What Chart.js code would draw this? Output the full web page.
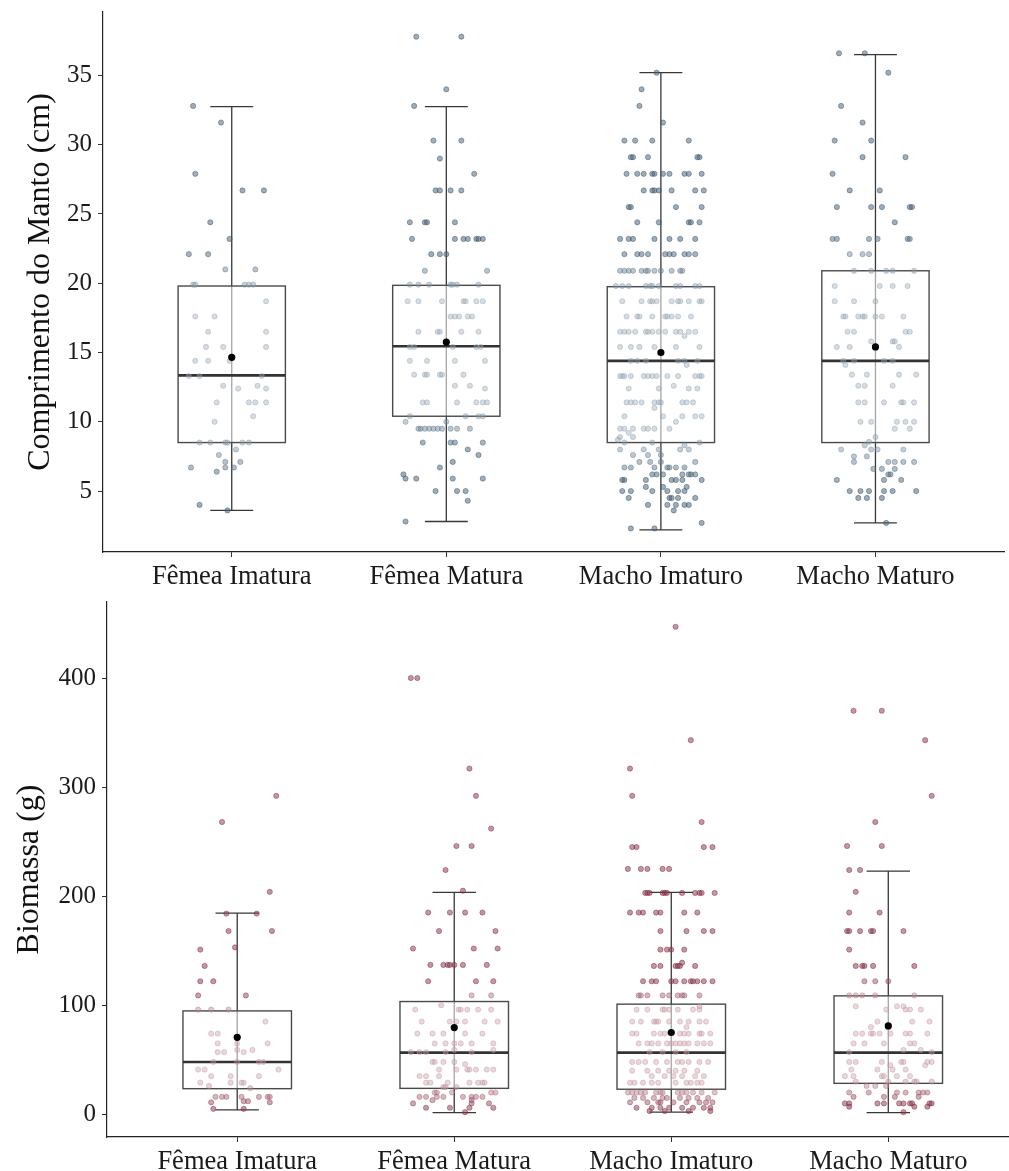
<!DOCTYPE html>
<html lang="pt">
<head>
<meta charset="utf-8">
<script src="https://cdn.jsdelivr.net/npm/chart.js@4.4.1/dist/chart.umd.min.js"></script>
<style>
  html, body { margin: 0; padding: 0; background: #fff; overflow: hidden; }
  #painelManto { position: absolute; left: 0; top: 0; }
  #painelBiomassa { position: absolute; left: 0; top: 590px; }
</style>
</head>
<body>
<canvas id="painelManto" width="1009" height="592"></canvas>
<canvas id="painelBiomassa" width="1030" height="581"></canvas>
<script>
//#region dados
const categorias = ["Fêmea Imatura", "Fêmea Matura", "Macho Imaturo", "Macho Maturo"];

// cada linha: [valor, [deslocamentos horizontais do jitter]]
const mantoFemeaImatura = [
  [32.8, [-0.18]], [31.6, [-0.05]], [27.9, [-0.17]], [26.7, [0.05, 0.15]], [24.4, [-0.10]],
  [23.2, [-0.01]], [22.1, [-0.20, -0.11]], [21.0, [-0.03, 0.11]],
  [19.9, [-0.18, -0.17, 0.06, 0.08, 0.10]], [18.7, [0.16]], [17.6, [-0.17, -0.08]],
  [16.5, [-0.11, 0.16]], [15.4, [-0.12, -0.04, 0.16]], [14.4, [-0.17, -0.11, -0.01]],
  [13.3, [-0.20, -0.15, 0.14]], [12.6, [-0.04, 0.12]], [12.4, [0.03, 0.16]],
  [11.4, [-0.07, 0.08, 0.11, 0.16]], [10.4, [0.10]], [10.0, [-0.08]],
  [8.5, [-0.15, -0.10, -0.03, -0.02, 0.05, 0.08]], [8.0, [0.02]], [7.6, [-0.06]],
  [7.1, [-0.03, 0.04]], [6.7, [-0.19, -0.03, 0.01]], [6.4, [-0.07]], [4.0, [-0.15]], [3.6, [-0.02]]
];
const mantoFemeaMatura = [
  [37.8, [-0.14, 0.07]], [34.0, [0.00]], [32.8, [-0.15]], [30.3, [-0.06, 0.07]], [29.0, [-0.03]],
  [27.9, [0.13]], [26.7, [-0.05, -0.03, 0.02, 0.07]], [24.4, [-0.17, -0.10, -0.09, 0.04]],
  [23.2, [-0.16, 0.04, 0.08, 0.10, 0.14, 0.15, 0.17]], [22.1, [-0.07, -0.03, 0.00]], [20.9, [-0.10, 0.19]],
  [19.9, [-0.17, -0.13, -0.08, 0.02, 0.03, 0.05, 0.15]], [18.7, [-0.18, -0.13, -0.02, 0.08, 0.09, 0.14, 0.17]],
  [17.6, [0.02, 0.04, 0.06, 0.10, 0.12]], [16.5, [-0.13, -0.04, -0.03, 0.07, 0.15]],
  [15.4, [-0.17, -0.15, 0.03, 0.14, 0.16]], [14.4, [-0.17, -0.09, 0.04, 0.18]],
  [13.4, [-0.15, -0.10, -0.09, -0.03, -0.02, 0.08]], [12.6, [0.04, 0.11]], [12.4, [0.18]],
  [11.4, [-0.11, -0.09, 0.05, 0.14, 0.17, 0.19]], [10.4, [-0.17, 0.09, 0.15, 0.17]], [10.0, [-0.19, 0.00]],
  [9.5, [-0.13, -0.12, -0.10, -0.08, -0.06, -0.04, -0.02, 0.02, 0.05, 0.11]],
  [8.5, [-0.11, 0.02, 0.04, 0.17]], [8.0, [0.10]], [7.6, [0.15]], [7.1, [0.03]], [6.7, [-0.03]],
  [6.2, [-0.20]], [5.9, [-0.19, -0.14, 0.03, 0.17]], [5.0, [-0.05, 0.05, 0.09]], [4.3, [0.10]], [2.8, [-0.19]]
];
const mantoMachoImaturo = [
  [35.2, [-0.02]], [34.0, [-0.09]], [32.8, [-0.10]], [31.6, [0.01]], [30.3, [-0.17, -0.12, -0.04, 0.13]],
  [29.1, [-0.14, -0.13, -0.06, 0.17, 0.18]],
  [27.9, [-0.16, -0.11, -0.08, -0.04, -0.03, 0.01, 0.04, 0.11, 0.13, 0.19]],
  [26.7, [-0.08, -0.04, -0.03, -0.01, 0.05, 0.16, 0.20]], [25.5, [-0.15, -0.14, 0.07, 0.19]],
  [24.4, [-0.11, -0.01, 0.13, 0.14, 0.18]], [23.2, [-0.19, -0.15, -0.13, -0.03, 0.04, 0.09, 0.16]],
  [22.1, [-0.17, -0.11, -0.09, -0.06, 0.02, 0.04, 0.06, 0.11, 0.13, 0.16]],
  [20.9, [-0.19, -0.17, -0.15, -0.13, -0.09, -0.07, -0.06, -0.03, 0.00, 0.05, 0.09, 0.10]],
  [19.8, [-0.21, -0.18, -0.15, -0.07, -0.05, -0.04, -0.01, 0.07, 0.09, 0.16, 0.18]],
  [18.7, [-0.18, -0.09, -0.05, -0.04, -0.02, 0.05, 0.08, 0.09, 0.13, 0.18, 0.19]],
  [17.6, [-0.16, -0.11, -0.10, -0.04, 0.02, 0.03, 0.05, 0.08, 0.14]],
  [16.5, [-0.19, -0.17, -0.15, -0.12, -0.07, -0.06, -0.04, -0.01, 0.02, 0.07, 0.09, 0.13, 0.16]],
  [16.2, [0.11]], [15.4, [-0.19, -0.14, -0.10, -0.03, 0.07, 0.18]],
  [14.4, [-0.14, -0.11, -0.07, 0.08, 0.11, 0.17]], [14.1, [0.12]],
  [13.3, [-0.19, -0.18, -0.17, -0.14, -0.08, -0.06, -0.04, -0.02, 0.03, 0.08, 0.16, 0.18, 0.19]],
  [12.6, [0.06]], [12.4, [-0.15, -0.01, 0.13, 0.17]],
  [11.4, [-0.16, -0.14, -0.12, -0.09, -0.03, -0.01, 0.00, 0.10, 0.12, 0.15]], [11.0, [-0.03]],
  [10.4, [-0.17, 0.01, 0.10, 0.16, 0.19]], [10.0, [0.07]],
  [9.5, [-0.19, -0.17, -0.13, -0.08, -0.06, -0.03, 0.04]], [9.2, [-0.15]], [8.9, [-0.19, -0.13]],
  [8.7, [-0.20]], [8.5, [-0.17, -0.04, 0.18]], [8.3, [0.11]], [8.0, [-0.19, -0.08, -0.01, 0.09, 0.13]],
  [7.6, [-0.13, -0.06, 0.00]], [7.1, [-0.10, -0.05, 0.00, 0.16]],
  [6.7, [-0.17, -0.14, -0.03, 0.03, 0.04, 0.07, 0.11]], [6.2, [-0.04, -0.02, 0.01, 0.10, 0.13, 0.14, 0.16]],
  [5.8, [-0.18, -0.17, -0.07, 0.05, 0.07, 0.10, 0.19]], [5.3, [-0.07, 0.01, 0.12]],
  [5.0, [-0.18, -0.14, -0.04, 0.03, 0.08, 0.11]], [4.5, [-0.15, 0.04, 0.05, 0.08, 0.16]],
  [4.0, [-0.06, 0.03, 0.07, 0.11, 0.13]], [3.6, [0.06]], [2.7, [0.19]], [2.3, [-0.14, -0.03]]
];
const mantoMachoMaturo = [
  [36.6, [-0.17, -0.05]], [35.2, [0.06]], [32.8, [-0.16]], [31.6, [-0.06]], [30.3, [-0.19, -0.02]],
  [29.1, [-0.06, 0.14]], [27.9, [-0.20]], [26.7, [-0.12, 0.02]], [25.5, [-0.18, -0.02, 0.03, 0.16, 0.17]],
  [24.4, [0.09]], [23.2, [-0.20, -0.18, -0.03, 0.01, 0.15, 0.16]], [22.1, [-0.12, -0.06, -0.03]],
  [20.9, [-0.10, -0.02, 0.05, 0.08, 0.18]], [19.8, [-0.19, 0.02, 0.08, 0.15]], [18.7, [-0.19, -0.10, 0.00]],
  [17.6, [-0.15, -0.14, -0.08, -0.06, -0.05, 0.00, 0.03, 0.13]], [16.5, [-0.13, -0.10, 0.14, 0.16]],
  [15.8, [-0.02, 0.08, 0.09]], [15.4, [-0.18, -0.12, 0.11]], [14.4, [-0.15, -0.10, 0.04, 0.08]],
  [14.1, [-0.14]], [13.4, [-0.11, -0.04, 0.11, 0.19]], [12.6, [-0.08, -0.05, 0.08]],
  [11.4, [-0.08, -0.05, 0.04, 0.12, 0.13, 0.18]], [10.0, [-0.07, -0.02, 0.10, 0.14, 0.18]],
  [9.5, [0.09, 0.16]], [8.9, [0.00]], [8.55, [-0.03]], [8.3, [-0.05]], [8.0, [-0.16, -0.02, 0.01, 0.13]],
  [7.5, [-0.10, -0.04]], [7.1, [-0.10, 0.06, 0.09, 0.13, 0.18]], [6.6, [-0.01, 0.03, 0.09]],
  [6.2, [0.06, 0.07]], [5.8, [-0.18, 0.04, 0.12]], [5.0, [-0.12, -0.07, -0.03, 0.04, 0.08, 0.19]],
  [4.5, [-0.08, -0.04, 0.03]], [2.7, [0.05]]
];

const biomassaFemeaImatura = [
  [292, [0.18]], [268, [-0.07]], [204, [0.15]], [184, [-0.05, 0.09]], [168, [-0.04, 0.16]],
  [153, [-0.01]], [151, [-0.17]], [136, [-0.15]], [122, [-0.17, -0.11]], [109, [-0.18, 0.04]],
  [96, [-0.18, -0.12, -0.04]], [85, [0.13]], [74, [-0.12, -0.09]], [65, [-0.09, 0.00, 0.14]],
  [59, [0.00, 0.07]], [57, [-0.09, -0.06, 0.03]], [48, [-0.11, 0.00, 0.10, 0.12]],
  [41, [-0.18, -0.15, 0.19]], [35, [-0.12, -0.03, 0.10]], [29, [-0.17, -0.03, 0.02, 0.03]],
  [26, [-0.13]], [24, [0.06]], [16, [-0.10, -0.07, -0.05, 0.02, 0.10, 0.14, 0.15]],
  [12, [0.03, 0.05]], [11, [-0.12, 0.15]], [5, [-0.11, 0.03]]
];
const biomassaFemeaMatura = [
  [400, [-0.20, -0.17]], [317, [0.07]], [292, [0.10]], [262, [0.17]], [246, [0.01, 0.08]],
  [224, [-0.04]], [205, [0.04]], [185, [-0.12, -0.02, 0.05, 0.13]], [168, [-0.07, 0.19]],
  [152, [-0.19, 0.09, 0.20]], [137, [-0.11, -0.05, -0.03, -0.02, 0.00, 0.04, 0.15]],
  [122, [-0.12, 0.10, 0.18]], [109, [0.08, 0.17]], [100, [-0.06]],
  [96, [-0.18, 0.02, 0.03, 0.06, 0.11, 0.17]], [85, [-0.15, -0.02, 0.01, 0.05, 0.14, 0.20]],
  [74, [-0.17, -0.10, -0.05, 0.05, 0.13]], [65, [-0.09, -0.04, 0.00, 0.03, 0.08, 0.18]],
  [59, [0.00, 0.18]], [57, [-0.20, -0.16, -0.13, -0.04, 0.08]], [48, [-0.10, -0.09, -0.05, 0.00]],
  [46, [0.05]], [41, [-0.07, 0.01, 0.06, 0.07, 0.10, 0.15, 0.18]], [35, [-0.16, -0.13, -0.07]],
  [29, [-0.13, -0.11, -0.03, 0.07, 0.11, 0.13, 0.14]], [25, [-0.05, -0.04, 0.01]],
  [20, [-0.09, -0.08, -0.01, 0.17, 0.19]], [16, [-0.16, -0.13, -0.08, -0.05, 0.04, 0.08, 0.10, 0.13]],
  [13, [-0.10, 0.08]], [10, [-0.19, 0.08, 0.16]], [6, [-0.13, -0.02, 0.07, 0.18]], [2, [0.05]]
];
const biomassaMachoImaturo = [
  [447, [0.02]], [343, [0.09]], [317, [-0.19]], [292, [-0.18]], [268, [0.14]],
  [245, [-0.18, -0.16, 0.15, 0.19]], [225, [-0.20, -0.14, -0.11, -0.04, -0.01]],
  [203, [-0.12, -0.11, -0.10, -0.04, -0.03, -0.02, 0.05, 0.11, 0.13, 0.14, 0.20]],
  [185, [-0.19, -0.15, -0.13, -0.07, -0.05, 0.06, 0.12]], [168, [-0.05, 0.07, 0.15, 0.19]],
  [151, [-0.05, -0.02, 0.00, 0.06]], [139, [0.05]], [136, [-0.08, -0.05, 0.02, 0.03, 0.04, 0.11]],
  [122, [-0.13, -0.09, -0.07, 0.00, 0.02, 0.06, 0.09, 0.10, 0.12, 0.15, 0.19]],
  [109, [-0.15, -0.14, -0.11, -0.04, -0.01, 0.03, 0.05, 0.06, 0.13]], [99, [0.13]],
  [96, [-0.16, -0.11, -0.04, -0.03, -0.01, 0.03, 0.10, 0.13]],
  [85, [-0.18, -0.14, -0.08, -0.07, -0.06, -0.01, 0.04, 0.08, 0.13, 0.16]], [80, [0.07]],
  [74, [-0.18, -0.16, -0.08, -0.05, -0.03, 0.04, 0.06, 0.08, 0.13, 0.14, 0.18]],
  [65, [-0.15, -0.11, -0.09, -0.06, -0.02, 0.00, 0.02, 0.04, 0.06, 0.08, 0.12, 0.15, 0.18]],
  [57, [-0.10, -0.04, 0.02, 0.07]], [48, [-0.18, -0.15, -0.12, -0.07, -0.02, 0.03, 0.05, 0.08, 0.13, 0.17]],
  [40, [-0.18, -0.11, -0.06, -0.01, 0.02, 0.06, 0.12]], [35, [-0.09, -0.03, 0.01, 0.05, 0.11, 0.15]],
  [29, [-0.19, -0.17, -0.13, -0.09, -0.06, 0.02, 0.07, 0.09, 0.12, 0.14]],
  [20, [-0.20, -0.18, -0.16, -0.14, -0.12, -0.07, -0.05, -0.04, 0.03, 0.05, 0.07, 0.10, 0.14, 0.20]],
  [15, [-0.17, -0.13, -0.08, -0.04, -0.02, 0.04, 0.08, 0.12, 0.17]],
  [11, [-0.19, -0.11, -0.06, -0.05, 0.01, 0.07, 0.13, 0.16, 0.19]],
  [6, [-0.16, -0.09, -0.05, -0.01, 0.05, 0.10, 0.15, 0.18]], [3, [-0.10, -0.03, 0.08, 0.18]]
];
const biomassaMachoMaturo = [
  [370, [-0.16, -0.03]], [343, [0.17]], [292, [0.20]], [268, [-0.06]], [246, [-0.19, -0.03]],
  [224, [-0.18, -0.13]], [204, [-0.15]], [185, [-0.18, -0.04]],
  [168, [-0.19, -0.18, -0.13, -0.08, -0.07, 0.07]], [151, [-0.18]],
  [136, [-0.15, -0.12, -0.11, -0.07, 0.12]], [122, [-0.11, -0.06, 0.00]],
  [109, [-0.18, -0.15, -0.12, -0.06, 0.12]], [99, [-0.15, 0.04, 0.07]], [96, [-0.01, 0.08, 0.10, 0.15]],
  [85, [-0.05, 0.11, 0.19]], [80, [-0.08]], [74, [-0.15, -0.12, -0.08, -0.07, -0.04, 0.01, 0.08, 0.10, 0.18]],
  [65, [-0.16, -0.11, -0.02, 0.10, 0.12]], [59, [0.07, 0.15]], [57, [-0.18, 0.20]],
  [48, [-0.18, -0.15, -0.03, 0.06, 0.07, 0.18, 0.20]], [45, [0.01, 0.17]], [41, [-0.17, -0.05, 0.02, 0.08]],
  [35, [-0.20, -0.16, -0.03, -0.02, 0.04, 0.10]], [30, [-0.15, 0.00, 0.08, 0.12, 0.13, 0.20]],
  [26, [-0.10, -0.06, -0.01]], [20, [-0.18, -0.09, 0.04, 0.08, 0.14, 0.16, 0.18]],
  [16, [-0.16, -0.02, 0.03, 0.14]], [10, [-0.20, -0.18, -0.05, -0.02, 0.05, 0.07, 0.10, 0.11, 0.19, 0.20]],
  [7, [-0.18, 0.12, 0.18]], [2, [0.07]]
];

// resumo de cada caixa
const mantoMin = [3.6, 2.8, 2.2, 2.7];
const mantoQ1 = [8.5, 10.4, 8.5, 8.5];
const mantoMediana = [13.35, 15.45, 14.4, 14.4];
const mantoMedia = [14.65, 15.75, 15.0, 15.4];
const mantoQ3 = [19.8, 19.85, 19.75, 20.9];
const mantoMax = [32.75, 32.75, 35.2, 36.5];

const biomassaMin = [4, 1.5, 2, 1.5];
const biomassaQ1 = [23.5, 23.8, 23, 28.4];
const biomassaMediana = [48, 56.6, 56.6, 56.6];
const biomassaMedia = [70.6, 79.5, 75, 81];
const biomassaQ3 = [94.8, 103.4, 101, 108.6];
const biomassaMax = [184.4, 203.4, 203.4, 223];

const mantoTicks = [5, 10, 15, 20, 25, 30, 35];
const biomassaTicks = [0, 100, 200, 300, 400];
//#endregion

const FONTE = "'Liberation Serif', 'DejaVu Serif', serif";

function expandir(grupos) {
  const out = [];
  grupos.forEach((linhas, g) => {
    linhas.forEach(([valor, desvios]) => {
      desvios.forEach(d => out.push({ x: g + 1 + d, y: valor, g: g }));
    });
  });
  return out;
}

// cor do ponto: claro dentro da caixa, escuro fora dela
function corPonto(p, est, claro, escuro, borda) {
  const q1 = est.q1[p.g], q3 = est.q3[p.g], iqr = q3 - q1;
  let u;
  if (p.y > q3) u = (p.y - q3) / iqr;
  else if (p.y < q1) u = (q1 - p.y) / iqr;
  else u = -Math.min(p.y - q1, q3 - p.y) / iqr;
  const t = Math.max(0, Math.min(1, (u + 0.06) / 0.3));
  const c = [0, 1, 2].map(i => Math.round(claro[i] + (escuro[i] - claro[i]) * t - (borda ? 15 : 0)));
  const a = claro[3] + (escuro[3] - claro[3]) * t + (borda ? 0.05 : 0);
  return `rgba(${c[0]},${c[1]},${c[2]},${a.toFixed(2)})`;
}

function pluginCaixas(est) {
  return {
    id: "caixas",
    beforeDatasetsDraw(chart) {
      const { ctx, scales: { x, y } } = chart;
      ctx.save();
      for (let g = 0; g < categorias.length; g++) {
        const cx = x.getPixelForValue(g + 1);
        const meia = x.getPixelForValue(g + 1.25) - cx;
        const cap = x.getPixelForValue(g + 1.1) - cx;
        const yMin = y.getPixelForValue(est.min[g]);
        const yMax = y.getPixelForValue(est.max[g]);
        const yQ1 = y.getPixelForValue(est.q1[g]);
        const yQ3 = y.getPixelForValue(est.q3[g]);
        const yMed = y.getPixelForValue(est.mediana[g]);

        // bigodes
        ctx.strokeStyle = "#383838";
        ctx.lineWidth = 1.3;
        ctx.beginPath();
        ctx.moveTo(cx, yMax); ctx.lineTo(cx, yMin);
        ctx.moveTo(cx - cap, yMax); ctx.lineTo(cx + cap, yMax);
        ctx.moveTo(cx - cap, yMin); ctx.lineTo(cx + cap, yMin);
        ctx.stroke();

        // caixa
        ctx.fillStyle = "rgba(255,255,255,0.55)";
        ctx.fillRect(cx - meia, yQ3, meia * 2, yQ1 - yQ3);
        ctx.strokeStyle = "#4a4a4a";
        ctx.lineWidth = 1.4;
        ctx.strokeRect(cx - meia, yQ3, meia * 2, yQ1 - yQ3);

        // mediana
        ctx.strokeStyle = "#333";
        ctx.lineWidth = 2.6;
        ctx.beginPath();
        ctx.moveTo(cx - meia, yMed); ctx.lineTo(cx + meia, yMed);
        ctx.stroke();
      }
      ctx.restore();
    }
  };
}

function criarPainel(id, grupos, est, ticks, yMin, yMax, titulo, tituloPad, claro, escuro, geo) {
  const pontos = expandir(grupos);
  const medias = est.media.map((v, g) => ({ x: g + 1, y: v }));

  new Chart(document.getElementById(id), {
    type: "scatter",
    data: {
      datasets: [
        {
          data: medias,
          order: 0,
          pointRadius: 3.6,
          pointBackgroundColor: "#000",
          pointBorderColor: "#000",
          pointBorderWidth: 0
        },
        {
          data: pontos,
          order: 1,
          pointRadius: 2.6,
          pointBorderWidth: 0.8,
          pointBackgroundColor: ctx => corPonto(ctx.raw, est, claro, escuro, false),
          pointBorderColor: ctx => corPonto(ctx.raw, est, claro, escuro, true)
        }
      ]
    },
    options: {
      responsive: false,
      animation: false,
      devicePixelRatio: 1,
      layout: { padding: { top: geo.topo, right: geo.direita, left: 0, bottom: 0 } },
      plugins: { legend: { display: false }, tooltip: { enabled: false } },
      scales: {
        x: {
          type: "linear",
          min: 0.4,
          max: 4.6,
          afterBuildTicks: s => { s.ticks = categorias.map((c, i) => ({ value: i + 1 })); },
          afterFit: s => { s.height = geo.alturaX; s.paddingLeft = 0; s.paddingRight = 0; },
          ticks: {
            callback: (v, i) => categorias[i],
            font: { family: FONTE, size: 26.5 },
            color: "#1a1a1a",
            padding: 4,
            maxRotation: 0,
            autoSkip: false
          },
          grid: { drawOnChartArea: false, tickLength: 5, color: "#333", lineWidth: 1 },
          border: { color: "#222", width: 1.2 }
        },
        y: {
          min: yMin,
          max: yMax,
          afterBuildTicks: s => { s.ticks = ticks.map(v => ({ value: v })); },
          afterFit: s => { s.width = geo.larguraY; s.paddingTop = 0; s.paddingBottom = 0; },
          ticks: {
            font: { family: FONTE, size: 25 },
            color: "#1a1a1a",
            padding: 6
          },
          title: {
            display: true,
            text: titulo,
            font: { family: FONTE, size: 32 },
            color: "#111",
            padding: { top: tituloPad, bottom: 0 }
          },
          grid: { drawOnChartArea: false, tickLength: 5, color: "#333", lineWidth: 1 },
          border: { color: "#222", width: 1.2 }
        }
      }
    },
    plugins: [pluginCaixas(est)]
  });
}

criarPainel(
  "painelManto",
  [mantoFemeaImatura, mantoFemeaMatura, mantoMachoImaturo, mantoMachoMaturo],
  { min: mantoMin, q1: mantoQ1, mediana: mantoMediana, media: mantoMedia, q3: mantoQ3, max: mantoMax },
  mantoTicks, 0.6, 39.58,
  "Comprimento do Manto (cm)", 21,
  [155, 172, 186, 0.42], [70, 98, 120, 0.52],
  { topo: 12, direita: 4, alturaX: 40, larguraY: 103 }
);

criarPainel(
  "painelBiomassa",
  [biomassaFemeaImatura, biomassaFemeaMatura, biomassaMachoImaturo, biomassaMachoMaturo],
  { min: biomassaMin, q1: biomassaQ1, mediana: biomassaMediana, media: biomassaMedia, q3: biomassaQ3, max: biomassaMax },
  biomassaTicks, -20.8, 469.7,
  "Biomassa (g)", 10,
  [205, 160, 170, 0.42], [140, 55, 75, 0.52],
  { topo: 12, direita: 11.5, alturaX: 34, larguraY: 107 }
);
</script>
</body>
</html>
